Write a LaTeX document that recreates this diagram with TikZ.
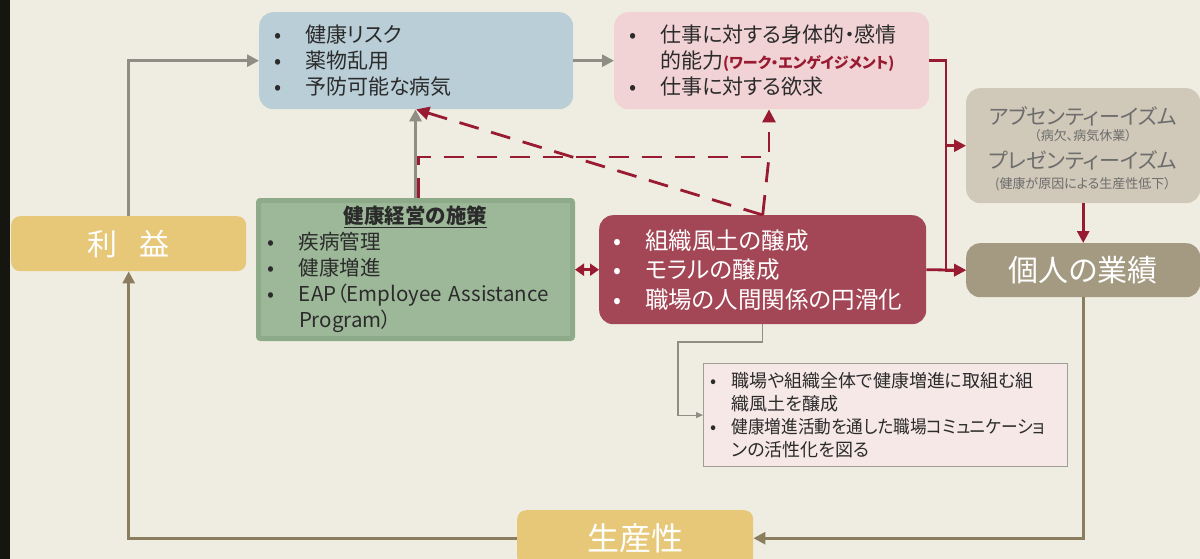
\documentclass[tikz,border=0pt]{standalone}
\usepackage{fontspec}
\setmainfont{Noto Sans CJK JP}[RawFeature=+palt]
\usetikzlibrary{arrows.meta,calc}
\definecolor{bgc}{HTML}{EFEDE1}
\definecolor{stripc}{HTML}{15160F}
\definecolor{bluec}{HTML}{B9CED7}
\definecolor{pinkc}{HTML}{F2D3D5}
\definecolor{absc}{HTML}{D0C8B8}
\definecolor{abst}{HTML}{6D6D6D}
\definecolor{indc}{HTML}{A49981}
\definecolor{goldc}{HTML}{E7C879}
\definecolor{greenc}{HTML}{9DB899}
\definecolor{greenb}{HTML}{8DAA89}
\definecolor{redbox}{HTML}{A34655}
\definecolor{annf}{HTML}{F6E8E7}
\definecolor{annb}{HTML}{A09C98}
\definecolor{grayc}{HTML}{8F8E84}
\definecolor{redc}{HTML}{981B32}
\definecolor{brownc}{HTML}{8B7E5E}
\definecolor{txt}{HTML}{2B2B2B}
\newcommand{\bulc}[1]{\makebox[#1][l]{•}}
\tikzset{
  rbox/.style={rounded corners=14pt, inner sep=0pt, anchor=north west, align=left},
  ga/.style={draw=grayc, line width=2.8pt, -{Triangle[length=12pt,width=12pt]}},
  ra/.style={draw=redc, line width=2.8pt, -{Triangle[length=12pt,width=12pt]}},
  ba/.style={draw=brownc, line width=2.8pt, -{Triangle[length=12pt,width=12pt]}},
  da/.style={draw=redc, line width=2.8pt, dash pattern=on 20pt off 13pt},
  thinarrow/.style={draw=grayc, line width=1.2pt, -{Triangle[length=7pt,width=6pt]}},
}
\begin{document}
\begin{tikzpicture}[x=1pt,y=-1pt]
\useasboundingbox (0,0) rectangle (1200,559);
\fill[bgc] (0,0) rectangle (1200,559);
\fill[stripc] (0,0) rectangle (10,559);

% boxes
\node[rbox, fill=bluec, minimum width=314pt, minimum height=97pt, text width=284pt,
      font=\fontsize{21}{26}\selectfont, text=txt] (risk) at (259,12)
  {\bulc{31pt}健康リスク\\\bulc{31pt}薬物乱用\\\bulc{31pt}予防可能な病気};

\node[rbox, fill=pinkc, minimum width=315pt, minimum height=97pt, text width=285pt,
      font=\fontsize{21}{26}\selectfont, text=txt] (cap) at (614,12)
  {\bulc{31pt}仕事に対する身体的・感情\\\hspace*{31pt}的能力{\fontsize{15}{26}\selectfont\bfseries\color{redc}(ワーク・エンゲイジメント)}\\\bulc{31pt}仕事に対する欲求};

\node[rbox, fill=absc, minimum width=234pt, minimum height=115pt] (absent) at (966,88) {};
\node[text=abst, font=\fontsize{21}{24}\selectfont, inner sep=0pt] (ab1) at (1083,116) {アブセンティーイズム};
\node[text=abst, font=\fontsize{13}{15}\selectfont, inner sep=0pt] (ab2) at (1083,136) {（病欠、病気休業）};
\node[text=abst, font=\fontsize{21}{24}\selectfont, inner sep=0pt] (ab3) at (1083,160) {プレゼンティーイズム};
\node[text=abst, font=\fontsize{13}{15}\selectfont, inner sep=0pt] (ab4) at (1083,184) {(健康が原因による生産性低下）};

\node[rbox, fill=indc, minimum width=234pt, minimum height=54pt, text=white, align=center,
      font=\fontsize{30}{34}\selectfont] (indiv) at (966,243) {個人の業績};

\node[rbox, rounded corners=9pt, fill=goldc, minimum width=235pt, minimum height=55pt, text=white, align=center,
      font=\fontsize{30}{34}\selectfont] (profit) at (11,216) {利\hspace{0.75em}益};

\node[rbox, rounded corners=2pt, fill=greenc, draw=greenb, line width=5pt, minimum width=314pt, minimum height=138pt,
      text width=296pt, font=\fontsize{20.5}{26}\selectfont, text=txt] (meas) at (256,198)
  {\makebox[296pt]{\bfseries\underline{健康経営の施策}}\\\bulc{31.5pt}疾病管理\\\bulc{31.5pt}健康増進\\\bulc{31.5pt}EAP（Employee Assistance\\\hspace*{31.5pt}Program）};

\node[rbox, fill=redbox, minimum width=327pt, minimum height=109pt, text width=298pt,
      font=\fontsize{23.5}{29.5}\selectfont, text=white] (cult) at (599,215)
  {\bulc{31.5pt}組織風土の醸成\\\bulc{31.5pt}モラルの醸成\\\bulc{31.5pt}職場の人間関係の円滑化};

\node[anchor=north west, inner sep=0pt, draw=annb, line width=1.2pt, fill=annf, minimum width=364pt, minimum height=103pt,
      text width=350pt, align=left, font=\fontsize{18}{22.7}\selectfont, text=txt] (annot) at (703,363)
  {\bulc{21pt}職場や組織全体で健康増進に取組む組\\\hspace*{21pt}織風土を醸成\\\bulc{21pt}\scalebox{0.925}[1]{健康増進活動を通した職場コミュニケーショ}\\\hspace*{21pt}ンの活性化を図る};

\node[rbox, rounded corners=9pt, fill=goldc, minimum width=236pt, minimum height=56pt, text=white, align=center,
      font=\fontsize{32}{36}\selectfont] (prod) at (517,510) {生産性};

% connectors
\draw[ga] (profit.north) |- (risk.west);
\draw[ga] (risk.east) -- (cap.west);
\draw[ga] (meas.north) -- (meas.north |- risk.south);

\coordinate (rj) at (946,0);
\draw[ra] (cap.east) -| (rj |- indiv.west) -- (indiv.west);
\draw[ra] (rj |- absent.west) -- (absent.west);
\draw[ra] (cult.east) -- (indiv.west);
\draw[ra] (absent.south) -- (indiv.north);

\draw[ba] (indiv.south) |- (prod.east);
\draw[ba] (prod.west) -| (profit.south);

\draw[draw=redc, line width=2.5pt, {Triangle[length=9pt,width=12pt]}-{Triangle[length=9pt,width=12pt]}] (meas.east |- cult.west) -- (cult.west);

\coordinate (ak) at (678,342);
\draw[thinarrow] (cult.south) |- (ak) |- (annot.west);

\coordinate (dk) at (769,157);
\draw[da, -{Triangle[length=13pt,width=13pt]}] (cult.north) -- (risk.south);
\draw[da] (cult.north) -- (dk);
\draw[da, -{Triangle[length=13pt,width=13pt]}] ([xshift=3pt]meas.north) |- (dk) -- (dk |- cap.south);
\end{tikzpicture}
\end{document}
